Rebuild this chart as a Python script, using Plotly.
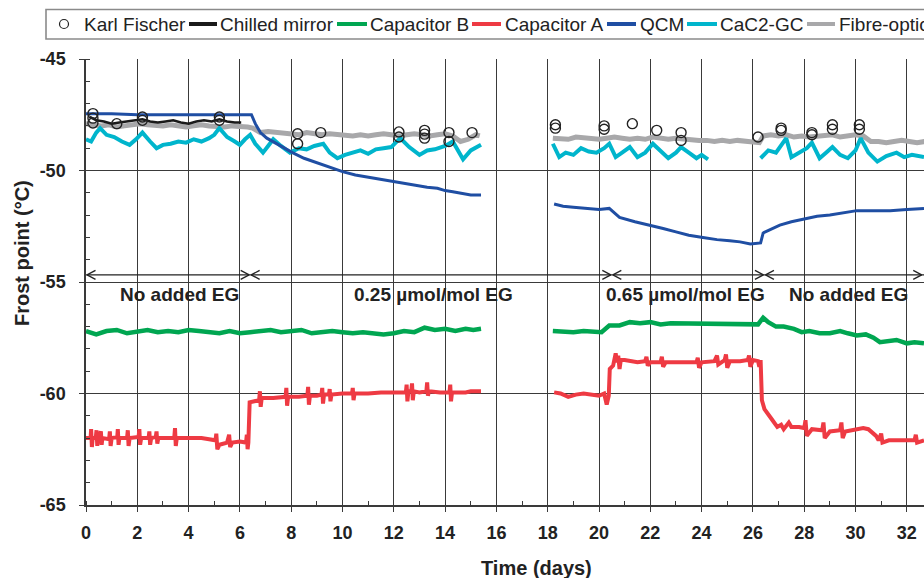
import plotly.graph_objects as go

# ---------------- data ----------------
kf_t = [0.27, 0.27, 0.27, 1.2, 2.2, 2.2, 5.2, 5.2, 8.25, 8.25, 9.15, 12.2, 12.2, 13.2, 13.2, 13.2,
        14.15, 14.15, 15.05, 18.3, 18.3, 20.2, 20.2, 21.3, 22.25, 23.2, 23.2, 26.2, 27.1, 27.1,
        28.3, 28.3, 29.1, 29.1, 30.15, 30.15]
kf_v = [-47.45, -47.65, -47.87, -47.9, -47.6, -47.75, -47.6, -47.75, -48.35, -48.8, -48.3, -48.27, -48.5,
        -48.2, -48.37, -48.55, -48.3, -48.7, -48.3, -47.95, -48.1, -48.0, -48.15, -47.9, -48.2, -48.3,
        -48.65, -48.5, -48.1, -48.2, -48.3, -48.4, -47.95, -48.15, -47.95, -48.15]

cm_t = [0.15, 0.4, 0.7, 1.0, 1.3, 1.6, 1.9, 2.2, 2.5, 2.8, 3.1, 3.4, 3.7, 4.0, 4.3, 4.6, 4.9, 5.2, 5.5, 5.8, 6.05]
cm_v = [-47.6, -47.75, -47.8, -47.9, -47.85, -47.8, -47.75, -47.7, -47.8, -47.85, -47.8, -47.75, -47.85,
        -47.9, -47.8, -47.75, -47.8, -47.7, -47.8, -47.85, -47.85]

fo_t1 = [0.0, 0.3, 0.6, 0.9, 1.2, 1.5, 1.8, 2.1, 2.4, 2.7, 3.0, 3.3, 3.6, 3.9, 4.2, 4.5, 4.8, 5.1, 5.4, 5.7,
         6.0, 6.3, 6.5, 6.8, 7.1, 7.4, 7.7, 8.0, 8.3, 8.6, 8.9, 9.2, 9.5, 9.8, 10.1, 10.4, 10.7, 11.0,
         11.3, 11.6, 11.9, 12.2, 12.5, 12.8, 13.1, 13.4, 13.7, 14.0, 14.3, 14.6, 14.9, 15.2, 15.35]
fo_v1 = [-47.9, -47.95, -48.0, -47.95, -48.05, -48.0, -47.95, -47.9, -47.95, -48.0, -48.0, -47.95, -48.0,
         -48.05, -48.0, -47.95, -48.0, -48.05, -48.05, -48.0, -48.0, -48.05, -48.1, -48.3, -48.25, -48.3,
         -48.35, -48.35, -48.4, -48.3, -48.35, -48.4, -48.35, -48.4, -48.4, -48.45, -48.4, -48.45, -48.4,
         -48.35, -48.4, -48.45, -48.4, -48.35, -48.4, -48.45, -48.4, -48.35, -48.45, -48.7, -48.6, -48.4, -48.45]
fo_t2 = [18.2, 18.5, 18.8, 19.1, 19.4, 19.7, 20.0, 20.3, 20.6, 20.9, 21.2, 21.5, 21.8, 22.1, 22.4, 22.7,
         23.0, 23.3, 23.6, 23.9, 24.2, 24.5, 24.8, 25.1, 25.4, 25.7, 26.0, 26.25, 26.4, 26.7, 27.0, 27.3,
         27.6, 27.9, 28.2, 28.5, 28.8, 29.1, 29.4, 29.7, 30.0, 30.3, 30.6, 30.9, 31.2, 31.5, 31.8, 32.1, 32.4, 32.7]
fo_v2 = [-48.55, -48.6, -48.6, -48.5, -48.55, -48.6, -48.6, -48.55, -48.5, -48.55, -48.6, -48.55, -48.6,
         -48.5, -48.55, -48.6, -48.55, -48.6, -48.6, -48.65, -48.65, -48.7, -48.65, -48.7, -48.65, -48.7,
         -48.7, -48.75, -48.45, -48.4, -48.45, -48.4, -48.5, -48.45, -48.5, -48.45, -48.45, -48.4, -48.5,
         -48.45, -48.4, -48.45, -48.7, -48.7, -48.75, -48.7, -48.65, -48.7, -48.75, -48.7]

gc_t1 = [0.0, 0.2, 0.4, 0.55, 0.8, 1.1, 1.4, 1.7, 1.95, 2.2, 2.5, 2.75, 3.0, 3.3, 3.6, 3.9, 4.2, 4.5, 4.8,
         5.0, 5.2, 5.5, 5.8, 6.0, 6.2, 6.4, 6.6, 6.9, 7.1, 7.3, 7.6, 7.95, 8.3, 8.6, 8.9, 9.25, 9.5, 9.8,
         10.1, 10.4, 10.7, 11.0, 11.3, 11.6, 11.9, 12.25, 12.6, 13.0, 13.3, 13.6, 14.0, 14.3, 14.5, 14.7, 15.0, 15.4]
gc_v1 = [-48.6, -48.7, -48.3, -48.1, -48.4, -48.5, -48.7, -48.85, -48.6, -48.3, -48.7, -49.0, -48.85, -48.8,
         -48.7, -48.75, -48.6, -48.7, -48.55, -48.4, -48.1, -48.5, -48.7, -48.85, -48.6, -48.4, -48.8, -49.2,
         -48.9, -48.6, -48.9, -49.2, -49.0, -49.05, -48.9, -48.8, -49.2, -49.45, -49.3, -49.2, -49.1, -49.25,
         -49.05, -49.0, -48.95, -48.55, -48.95, -49.3, -49.1, -49.05, -48.9, -48.7, -49.1, -49.5, -49.1, -48.85]
gc_t2 = [18.2, 18.45, 18.7, 19.0, 19.3, 19.6, 19.9, 20.2, 20.4, 20.65, 20.9, 21.2, 21.5, 21.8, 22.1, 22.4,
         22.7, 23.0, 23.2, 23.5, 23.8, 24.0, 24.25]
gc_v2 = [-48.8, -49.4, -49.2, -49.3, -49.0, -49.15, -49.2, -49.0, -48.8, -49.4, -49.2, -48.95, -49.4, -49.2,
         -48.8, -49.1, -49.45, -49.2, -48.95, -49.2, -49.45, -49.3, -49.5]
gc_t3 = [26.3, 26.6, 26.9, 27.1, 27.3, 27.5, 27.8, 28.1, 28.3, 28.6, 28.85, 29.1, 29.4, 29.7, 30.0, 30.2,
         30.5, 30.85, 31.2, 31.6, 31.9, 32.2, 32.67]
gc_v3 = [-49.45, -49.1, -49.2, -48.9, -48.55, -49.4, -49.2, -49.0, -48.75, -49.45, -49.2, -48.95, -49.3,
         -49.45, -49.1, -48.55, -49.2, -49.6, -49.35, -49.2, -49.4, -49.3, -49.4]

qcm_t1 = [0.0, 1.0, 2.0, 3.0, 4.0, 5.0, 6.0, 6.45, 6.6, 6.8, 7.05, 7.5, 8.05, 8.5, 9.0, 9.5, 10.0, 10.5,
          11.0, 11.5, 12.0, 12.5, 13.0, 13.3, 13.7, 14.0, 14.3, 14.6, 15.0, 15.4]
qcm_v1 = [-47.45, -47.45, -47.5, -47.5, -47.48, -47.47, -47.47, -47.5, -47.9, -48.3, -48.55, -48.85, -49.2,
          -49.45, -49.65, -49.85, -50.05, -50.2, -50.3, -50.4, -50.5, -50.6, -50.7, -50.75, -50.8, -50.9,
          -50.95, -51.0, -51.1, -51.1]
qcm_t2 = [18.25, 18.6, 19.0, 19.5, 20.0, 20.4, 20.8, 21.4, 22.0, 22.5, 23.0, 23.5, 24.05, 24.6, 25.1, 25.5,
          25.9, 26.3, 26.4, 26.7, 27.05, 27.5, 28.1, 28.5, 29.0, 29.5, 30.05, 30.7, 31.35, 32.0, 32.67]
qcm_v2 = [-51.5, -51.6, -51.65, -51.7, -51.75, -51.7, -52.1, -52.3, -52.45, -52.6, -52.75, -52.9, -53.0,
          -53.1, -53.15, -53.2, -53.3, -53.25, -52.8, -52.65, -52.45, -52.3, -52.15, -52.05, -52.0, -51.9,
          -51.8, -51.8, -51.8, -51.75, -51.7]

capb_t1 = [0.0, 0.4, 0.8, 1.2, 1.6, 2.0, 2.4, 2.8, 3.2, 3.6, 4.0, 4.4, 4.8, 5.2, 5.6, 6.0, 6.4, 6.8, 7.2,
           7.6, 8.0, 8.4, 8.8, 9.2, 9.6, 10.0, 10.4, 10.8, 11.2, 11.6, 12.0, 12.4, 12.8, 13.2, 13.6, 14.0,
           14.4, 14.8, 15.1, 15.4]
capb_v1 = [-57.2, -57.35, -57.2, -57.15, -57.3, -57.25, -57.15, -57.25, -57.2, -57.25, -57.15, -57.2, -57.25,
           -57.3, -57.2, -57.3, -57.25, -57.2, -57.15, -57.25, -57.2, -57.15, -57.3, -57.25, -57.2, -57.25,
           -57.3, -57.25, -57.3, -57.35, -57.3, -57.2, -57.25, -57.05, -57.15, -57.1, -57.2, -57.1, -57.15, -57.1]
capb_t2 = [18.2, 18.6, 19.0, 19.4, 19.8, 20.1, 20.4, 20.8, 21.2, 21.6, 22.0, 22.4, 22.8, 23.2, 23.6, 24.0,
           24.4, 24.8, 25.2, 25.6, 26.0, 26.2, 26.4, 26.6, 26.9, 27.2, 27.6, 27.9, 28.2, 28.6, 29.0, 29.4,
           29.7, 30.05, 30.4, 30.7, 30.95, 31.3, 31.6, 32.0, 32.3, 32.67]
capb_v2 = [-57.2, -57.25, -57.25, -57.2, -57.25, -57.25, -56.95, -56.95, -56.8, -56.85, -56.8, -56.9, -56.85,
           -56.85, -56.9, -56.85, -56.9, -56.85, -56.85, -56.9, -56.85, -56.9, -56.6, -56.8, -57.0, -57.0,
           -57.1, -57.25, -57.2, -57.3, -57.3, -57.2, -57.3, -57.4, -57.35, -57.5, -57.7, -57.65, -57.6,
           -57.75, -57.7, -57.75]

capa_t1 = [0.0, 0.18, 0.2, 0.23, 0.26, 0.38, 0.41, 0.44, 0.47, 0.58, 0.61, 0.64, 0.9, 0.93, 0.96, 1.0,
           1.22, 1.24, 1.27, 1.3, 1.6, 1.63, 1.66, 1.7, 2.05, 2.08, 2.11, 2.15, 2.44, 2.47, 2.5, 2.54,
           2.72, 2.75, 2.78, 2.82, 3.2, 3.44, 3.47, 3.5, 3.54, 4.0, 4.5, 4.8, 5.05, 5.08, 5.12, 5.2, 5.5,
           5.58, 5.62, 5.7, 6.0, 6.24, 6.27, 6.3, 6.33, 6.38, 6.6, 6.75, 6.78, 6.81, 6.85, 7.3, 7.78, 7.81,
           7.84, 7.88, 8.3, 8.63, 8.66, 8.69, 8.73, 9.0, 9.18, 9.21, 9.24, 9.28, 9.47, 9.5, 9.53, 9.57, 10.0,
           10.37, 10.4, 10.43, 10.47, 11.0, 11.5, 12.0, 12.47, 12.5, 12.53, 12.57, 12.68, 12.71, 12.74,
           12.78, 13.0, 13.27, 13.3, 13.33, 13.37, 13.8, 14.17, 14.2, 14.23, 14.27, 14.8, 15.0, 15.4]
capa_v1 = [-62.0, -62.0, -61.6, -62.4, -62.0, -62.0, -61.65, -62.35, -62.0, -61.7, -62.3, -62.0, -62.05,
           -61.7, -62.35, -62.0, -61.95, -61.6, -62.3, -62.0, -62.0, -61.65, -62.35, -62.0, -61.95, -61.6,
           -62.3, -62.0, -62.0, -61.7, -62.3, -62.0, -61.95, -61.7, -62.25, -62.0, -62.0, -62.0, -61.55,
           -62.35, -62.0, -62.0, -62.0, -62.05, -62.1, -61.8, -62.5, -62.3, -62.2, -61.85, -62.4, -62.2,
           -62.15, -62.2, -61.85, -62.5, -62.2, -60.4, -60.35, -60.3, -59.9, -60.6, -60.2, -60.2, -60.15,
           -59.75, -60.55, -60.15, -60.15, -60.1, -59.7, -60.5, -60.1, -60.1, -60.05, -59.75, -60.45, -60.05,
           -60.05, -59.8, -60.35, -60.05, -60.0, -60.0, -59.75, -60.3, -60.0, -60.0, -59.95, -59.95, -59.95,
           -59.6, -60.35, -59.9, -59.9, -59.55, -60.3, -59.9, -59.95, -59.9, -59.5, -60.1, -59.9, -59.95,
           -59.95, -59.6, -60.35, -59.95, -59.95, -59.9, -59.9]
capa_t2 = [18.25, 18.5, 18.8, 19.1, 19.4, 19.7, 20.0, 20.2, 20.3, 20.38, 20.42, 20.55, 20.65, 20.7, 20.75,
           20.8, 20.85, 21.0, 21.2, 21.5, 21.8, 21.85, 21.9, 22.0, 22.4, 22.45, 22.5, 22.6, 23.0, 23.1, 23.4,
           23.8, 23.85, 23.9, 24.0, 24.5, 24.6, 24.65, 24.9, 24.95, 25.0, 25.1, 25.5, 25.8, 25.85, 25.9, 26.0,
           26.2, 26.25, 26.3, 26.35, 26.45, 26.7, 26.95, 27.1, 27.2, 27.4, 27.5, 27.8, 28.0, 28.05, 28.1,
           28.3, 28.7, 28.75, 28.8, 29.0, 29.4, 29.45, 29.5, 29.6, 30.0, 30.3, 30.5, 30.8, 30.9, 31.0, 31.05,
           31.3, 31.6, 32.0, 32.3, 32.35, 32.4, 32.67]
capa_v2 = [-59.95, -60.0, -60.15, -60.05, -60.0, -60.05, -60.1, -60.0, -60.5, -60.1, -58.9, -58.75, -58.2,
           -58.6, -58.3, -58.9, -58.5, -58.5, -58.55, -58.6, -58.55, -58.35, -58.75, -58.6, -58.6, -58.35,
           -58.8, -58.6, -58.6, -58.6, -58.6, -58.6, -58.4, -58.85, -58.6, -58.55, -58.3, -58.7, -58.5,
           -58.25, -58.85, -58.55, -58.55, -58.5, -58.3, -58.8, -58.5, -58.55, -58.8, -58.5, -60.3, -60.7,
           -61.1, -61.5, -61.4, -61.6, -61.3, -61.5, -61.5, -61.55, -61.2, -61.9, -61.6, -61.65, -61.3,
           -62.0, -61.7, -61.65, -61.3, -62.0, -61.7, -61.6, -61.55, -61.6, -61.9, -62.1, -61.8, -62.2,
           -62.1, -62.1, -62.1, -62.1, -61.85, -62.2, -62.1]

legend_names = ["Karl Fischer", "Chilled mirror", "Capacitor B", "Capacitor A", "QCM", "CaC2-GC", "Fibre-optic"]
legend_colors = ["#222222", "#1a1a1a", "#00a651", "#ee3a43", "#1f4ea3", "#00b5cc", "#a8a8aa"]

regions = ["No added EG", "0.25 µmol/mol EG", "0.65 µmol/mol EG", "No added EG"]
region_label_x = [3.66, 13.53, 23.39, 29.71]
region_bounds = [0.0, 6.4, 20.5, 26.45, 32.62]
arrow_y = -54.68
label_y = -55.54

x_tickvals = list(range(0, 34, 2))
x_ticktext = [str(v) for v in x_tickvals]
y_tickvals = [-65, -60, -55, -50, -45]
y_ticktext = ["-65", "-60", "-55", "-50", "-45"]

X_RANGE = [0, 32.67]
Y_RANGE = [-65, -45]

# ---------------- figure ----------------
W, H = 924, 578
ML, MT, MB = 86, 59, 73
PW, PH = W - ML, H - MT - MB


def px(xp):
    return (xp - ML) / PW


def py(yp):
    return (H - MB - yp) / PH


GREY, CYAN, BLUE, BLACK, GREEN, RED = (legend_colors[6], legend_colors[5], legend_colors[4],
                                       legend_colors[1], legend_colors[2], legend_colors[3])

fig = go.Figure()


def add_line(t, v, color, width):
    fig.add_trace(go.Scatter(x=t, y=v, mode="lines", line=dict(color=color, width=width),
                             showlegend=False, hoverinfo="skip"))


add_line(fo_t1, fo_v1, GREY, 5)
add_line(fo_t2, fo_v2, GREY, 5)
add_line(gc_t1, gc_v1, CYAN, 4)
add_line(gc_t2, gc_v2, CYAN, 4)
add_line(gc_t3, gc_v3, CYAN, 4)
add_line(qcm_t1, qcm_v1, BLUE, 3)
add_line(qcm_t2, qcm_v2, BLUE, 3)
add_line(cm_t, cm_v, BLACK, 2.5)
add_line(capb_t1, capb_v1, GREEN, 4.5)
add_line(capb_t2, capb_v2, GREEN, 4.5)
add_line(capa_t1, capa_v1, RED, 4)
add_line(capa_t2, capa_v2, RED, 4)
fig.add_trace(go.Scatter(x=kf_t, y=kf_v, mode="markers",
                         marker=dict(symbol="circle-open", size=10, color="#222222", line=dict(width=1.4)),
                         showlegend=False, hoverinfo="skip"))

shapes = []
# region arrow line
shapes.append(dict(type="line", xref="x", yref="y", x0=X_RANGE[0], x1=X_RANGE[1], y0=arrow_y, y1=arrow_y,
                   line=dict(color="#222222", width=1.3), layer="above"))
ah_dx, ah_dy = 0.33, 0.2
for i, b in enumerate(region_bounds):
    if i < len(region_bounds) - 1:  # left-pointing head on the right of boundary
        tip = b + 0.04
        for s in (1, -1):
            shapes.append(dict(type="line", xref="x", yref="y", x0=tip, y0=arrow_y, x1=tip + ah_dx,
                               y1=arrow_y + s * ah_dy, line=dict(color="#222222", width=1.3)))
    if i > 0:  # right-pointing head on the left
        tip = b - 0.04
        for s in (1, -1):
            shapes.append(dict(type="line", xref="x", yref="y", x0=tip, y0=arrow_y, x1=tip - ah_dx,
                               y1=arrow_y + s * ah_dy, line=dict(color="#222222", width=1.3)))

# legend box
shapes.append(dict(type="rect", xref="paper", yref="paper", x0=px(46), x1=px(940), y0=py(39), y1=py(9.5),
                   line=dict(color="#8a8a8a", width=1.6), fillcolor="white", layer="above"))
# legend circle
shapes.append(dict(type="circle", xref="paper", yref="paper", x0=px(59.5), x1=px(68.5), y0=py(28.5),
                   y1=py(19.5), line=dict(color="#222222", width=1.2), layer="above"))
leg_line_x = [(189, 217), (337, 367), (472, 501), (607, 636), (687, 717), (807, 835)]
for (a, b), c in zip(leg_line_x, legend_colors[1:]):
    shapes.append(dict(type="line", xref="paper", yref="paper", x0=px(a), x1=px(b), y0=py(24), y1=py(24),
                       line=dict(color=c, width=4), layer="above"))

annotations = []
leg_text_x = [82, 218, 368, 503, 638, 718, 837]
for name, xl in zip(legend_names, leg_text_x):
    annotations.append(dict(text=name, xref="paper", yref="paper", x=px(xl), y=py(24.5), xanchor="left",
                            yanchor="middle", showarrow=False,
                            font=dict(family="Liberation Sans, Arial", size=19, color="#222222")))
for name, xc in zip(regions, region_label_x):
    annotations.append(dict(text=name, xref="x", yref="y", x=xc, y=label_y, xanchor="center",
                            yanchor="middle", showarrow=False,
                            font=dict(family="Liberation Sans, Arial", size=19, color="#222222",
                                      weight="bold")))
annotations.append(dict(text="Time (days)", xref="paper", yref="paper", x=px(536), y=py(568),
                        xanchor="center", yanchor="middle", showarrow=False,
                        font=dict(family="Liberation Sans, Arial", size=20, color="#222222", weight="bold")))
annotations.append(dict(text="Frost point (°C)", xref="paper", yref="paper", x=px(22), y=py(253),
                        xanchor="center", yanchor="middle", showarrow=False, textangle=-90,
                        font=dict(family="Liberation Sans, Arial", size=20, color="#222222", weight="bold")))

tickfont = dict(family="Liberation Sans, Arial", size=18, color="#222222", weight="bold")

fig.update_layout(
    width=W, height=H,
    margin=dict(l=ML, r=0, t=MT, b=MB, pad=0),
    paper_bgcolor="white", plot_bgcolor="white",
    showlegend=False,
    shapes=shapes, annotations=annotations,
    xaxis=dict(range=X_RANGE, tickmode="array", tickvals=x_tickvals, ticktext=x_ticktext,
               showgrid=True, gridcolor="#3a3a3a", gridwidth=1,
               zeroline=False, showline=True, linecolor="#3a3a3a", linewidth=1.5,
               ticks="outside", ticklen=5, tickcolor="#3a3a3a", tickwidth=1.2,
               tickfont=tickfont, ticklabelstandoff=6,
               minor=dict(dtick=1, tick0=0, ticks="inside", ticklen=4, tickcolor="#3a3a3a", showgrid=False)),
    yaxis=dict(range=Y_RANGE, tickmode="array", tickvals=y_tickvals, ticktext=y_ticktext,
               showgrid=True, gridcolor="#3a3a3a", gridwidth=1,
               zeroline=False, showline=True, linecolor="#3a3a3a", linewidth=1.5,
               ticks="outside", ticklen=5, tickcolor="#3a3a3a", tickwidth=1.2,
               tickfont=tickfont, ticklabelstandoff=10,
               minor=dict(dtick=1, tick0=-65, ticks="inside", ticklen=4, tickcolor="#3a3a3a", showgrid=False)),
)

fig.write_html("out.html")
